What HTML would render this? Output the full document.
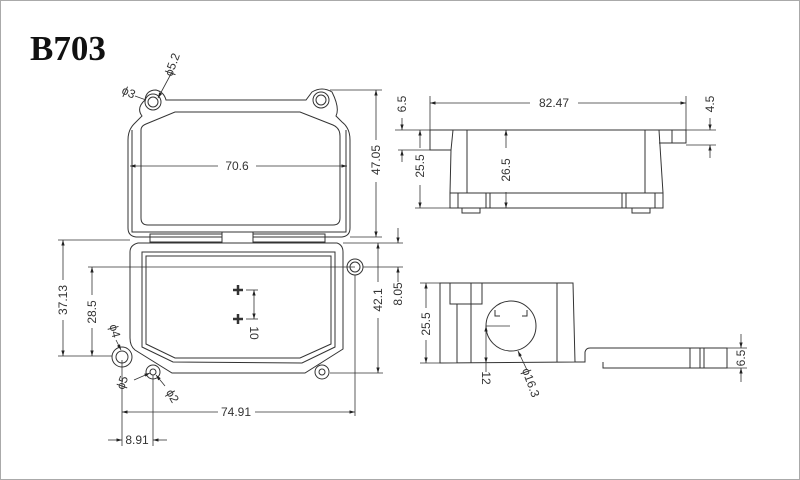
<!DOCTYPE html>
<html><head><meta charset="utf-8"><style>
html,body{margin:0;padding:0;background:#fff}
svg{display:block}
text{font-family:"Liberation Sans",sans-serif;font-size:12px;fill:#333}
</style></head><body>
<svg width="800" height="480" viewBox="0 0 800 480" xmlns="http://www.w3.org/2000/svg">
<defs>
<marker id="a" viewBox="0 0 10 10" refX="10" refY="5" markerWidth="7" markerHeight="7" orient="auto-start-reverse"><path d="M0,2 L10,5 L0,8z" fill="#222"/></marker>
</defs>
<rect x="0.5" y="0.5" width="799" height="479" fill="#fff" stroke="#aaa"/>
<text x="30" y="60" style="font-family:'Liberation Serif',serif;font-size:35px;font-weight:bold;fill:#111">B703</text>

<g fill="none" stroke="#333" stroke-width="1">
<!-- lid -->
<path d="M145,100 Q136,108 142,116 L134,124 Q128,130 128,140 L128,228 Q128,236 136,237 L342,237 Q350,236 350,228 L350,140 Q350,128 342,122 L336,116 Q340,108 332,92 Q322,86 312,92 L306,100 L166,100 Q164,92 156,90 Q146,90 145,100z"/>
<path d="M132,130 L132,232 L346,232 L346,130"/>
<path d="M175,112 L300,112 L333,125 Q340,128 340,136 L340,218 Q340,225 333,225 L148,225 Q141,225 141,218 L141,130 Q141,126 146,124 z"/>
<circle cx="153" cy="102" r="8"/><circle cx="153" cy="102" r="5"/>
<circle cx="321" cy="100" r="8"/><circle cx="321" cy="100" r="5"/>
<rect x="150" y="234" width="175" height="8"/>
<rect x="222" y="232" width="31" height="11" fill="#fff"/>
<!-- base -->
<path d="M138,243 L337,243 Q343,245 343,252 L343,349 L305,373 L172,373 L135,350 Q130,346 130,338 L130,252 Q130,245 138,243z"/>
<path d="M142,252 L335,252 L335,347 L302,363 L173,362 L142,347z"/>
<path d="M146,256 L331,256 L331,344 L300,358 L175,358 L146,344z"/>
<circle cx="355" cy="267" r="8"/><circle cx="355" cy="267" r="5"/>
<circle cx="122" cy="357" r="10"/><circle cx="122" cy="357" r="6"/>
<circle cx="153" cy="372" r="7"/><circle cx="153" cy="372" r="3"/>
<circle cx="322" cy="372" r="7"/><circle cx="322" cy="372" r="3"/>
<path d="M233,290 h10 M238,285 v10 M233,319 h10 M238,314 v10" stroke-width="2.5"/>
<!-- side view top -->
<path d="M430,130 L686,130 M430,130 L430,150 L451,150 L453,130 M451,150 L450,193 M467,130 L467,193 M645,130 L645,193 M659,130 L663,193 M659,143 L686,143 L686,130 M672,130 L672,143 M450,193 L663,193 L663,208 L450,208z M462,208 L462,213 L480,213 L480,208 M632,208 L632,213 L650,213 L650,208 M458,193 v15 M486,193 v15 M490,193 v15 M622,193 v15 M626,193 v15 M655,193 v15"/>
<!-- side view bottom -->
<path d="M440,283 L573,283 L575,362 L440,363z M450,283 L450,304 L482,304 L482,283 M457,304 V363 M471,283 V363 M557,283 V362 M575,362 L585,362 L585,352 Q586,348 590,348 L727,348 L727,368 L603,368 L603,362"/>
<circle cx="511" cy="326" r="25"/>
<path d="M495,310 v6 h5 M527,310 v6 h-5 M690,348 v20 M700,348 v20 M704,348 v20"/>
</g>

<g fill="none" stroke="#333" stroke-width="0.8">
<line x1="130" y1="166" x2="218" y2="166" marker-start="url(#a)"/><line x1="256" y1="166" x2="347" y2="166" marker-end="url(#a)"/>
<line x1="330" y1="90" x2="382" y2="90"/><line x1="350" y1="237" x2="382" y2="237"/>
<line x1="376" y1="90" x2="376" y2="140" marker-start="url(#a)"/><line x1="376" y1="182" x2="376" y2="237" marker-end="url(#a)"/>
<line x1="135" y1="96" x2="146" y2="100"/><line x1="172" y1="72" x2="158" y2="98" marker-end="url(#a)"/>
<line x1="58" y1="240" x2="130" y2="240"/><line x1="58" y1="356" x2="112" y2="356"/>
<line x1="63" y1="240" x2="63" y2="280" marker-start="url(#a)"/><line x1="63" y1="320" x2="63" y2="356" marker-end="url(#a)"/>
<line x1="88" y1="267" x2="355" y2="267"/>
<line x1="92" y1="267" x2="92" y2="295" marker-start="url(#a)"/><line x1="92" y1="328" x2="92" y2="356" marker-end="url(#a)"/>
<line x1="343" y1="243" x2="403" y2="243"/><line x1="330" y1="373" x2="383" y2="373"/>
<line x1="378" y1="243" x2="378" y2="282" marker-start="url(#a)"/><line x1="378" y1="318" x2="378" y2="373" marker-end="url(#a)"/>
<line x1="363" y1="267" x2="403" y2="267"/>
<line x1="398" y1="228" x2="398" y2="243" marker-end="url(#a)"/><line x1="398" y1="282" x2="398" y2="267" marker-end="url(#a)"/>
<line x1="246" y1="290" x2="258" y2="290"/><line x1="246" y1="319" x2="258" y2="319"/>
<line x1="254" y1="290" x2="254" y2="319" marker-start="url(#a)" marker-end="url(#a)"/>
<line x1="122" y1="360" x2="122" y2="446"/><line x1="153" y1="375" x2="153" y2="446"/><line x1="355" y1="275" x2="355" y2="416"/>
<line x1="122" y1="412" x2="218" y2="412" marker-start="url(#a)"/><line x1="255" y1="412" x2="355" y2="412" marker-end="url(#a)"/>
<line x1="108" y1="440" x2="122" y2="440" marker-end="url(#a)"/><line x1="167" y1="440" x2="153" y2="440" marker-end="url(#a)"/>
<line x1="116" y1="340" x2="121" y2="350" marker-end="url(#a)"/>
<line x1="134" y1="380" x2="150" y2="373" marker-end="url(#a)"/><line x1="165" y1="386" x2="156" y2="375" marker-end="url(#a)"/>
<line x1="430" y1="96" x2="430" y2="130"/><line x1="686" y1="96" x2="686" y2="130"/>
<line x1="430" y1="103" x2="530" y2="103" marker-start="url(#a)"/><line x1="578" y1="103" x2="686" y2="103" marker-end="url(#a)"/>
<line x1="395" y1="130" x2="430" y2="130"/><line x1="686" y1="130" x2="716" y2="130"/><line x1="686" y1="145" x2="716" y2="145"/>
<line x1="398" y1="150" x2="430" y2="150"/><line x1="415" y1="208" x2="450" y2="208"/>
<line x1="402" y1="118" x2="402" y2="130" marker-end="url(#a)"/><line x1="402" y1="162" x2="402" y2="150" marker-end="url(#a)"/>
<line x1="420" y1="130" x2="420" y2="148" marker-start="url(#a)"/><line x1="420" y1="185" x2="420" y2="208" marker-end="url(#a)"/>
<line x1="506" y1="130" x2="506" y2="148" marker-start="url(#a)"/><line x1="506" y1="192" x2="506" y2="208" marker-end="url(#a)"/>
<line x1="710" y1="118" x2="710" y2="130" marker-end="url(#a)"/><line x1="710" y1="158" x2="710" y2="145" marker-end="url(#a)"/>
<line x1="420" y1="283" x2="440" y2="283"/><line x1="420" y1="363" x2="440" y2="363"/>
<line x1="426" y1="283" x2="426" y2="308" marker-start="url(#a)"/><line x1="426" y1="340" x2="426" y2="363" marker-end="url(#a)"/>
<line x1="486" y1="326" x2="510" y2="326"/>
<line x1="486" y1="326" x2="486" y2="363" marker-start="url(#a)" marker-end="url(#a)"/>
<line x1="486" y1="363" x2="486" y2="372"/>
<line x1="527" y1="370" x2="518" y2="351" marker-end="url(#a)"/>
<line x1="727" y1="348" x2="747" y2="348"/><line x1="727" y1="368" x2="747" y2="368"/>
<line x1="741" y1="334" x2="741" y2="348" marker-end="url(#a)"/><line x1="741" y1="382" x2="741" y2="368" marker-end="url(#a)"/>
</g>

<g>
<text x="237" y="170" text-anchor="middle">70.6</text>
<text transform="translate(380,160) rotate(-90)" text-anchor="middle">47.05</text>
<text transform="translate(127,96) rotate(25)" text-anchor="middle">ϕ3</text>
<text transform="translate(176,66) rotate(-70)" text-anchor="middle">ϕ5.2</text>
<text transform="translate(67,300) rotate(-90)" text-anchor="middle">37.13</text>
<text transform="translate(96,312) rotate(-90)" text-anchor="middle">28.5</text>
<text transform="translate(382,300) rotate(-90)" text-anchor="middle">42.1</text>
<text transform="translate(402,294) rotate(-90)" text-anchor="middle">8.05</text>
<text transform="translate(250,333) rotate(90)" text-anchor="middle">10</text>
<text transform="translate(111,332) rotate(75)" text-anchor="middle">ϕ4</text>
<text transform="translate(126,384) rotate(-70)" text-anchor="middle">ϕ5</text>
<text transform="translate(169,398) rotate(60)" text-anchor="middle">ϕ2</text>
<text x="236" y="416" text-anchor="middle">74.91</text>
<text x="137" y="444" text-anchor="middle">8.91</text>
<text x="554" y="107" text-anchor="middle">82.47</text>
<text transform="translate(406,104) rotate(-90)" text-anchor="middle">6.5</text>
<text transform="translate(424,166) rotate(-90)" text-anchor="middle">25.5</text>
<text transform="translate(510,170) rotate(-90)" text-anchor="middle">26.5</text>
<text transform="translate(714,104) rotate(-90)" text-anchor="middle">4.5</text>
<text transform="translate(430,324) rotate(-90)" text-anchor="middle">25.5</text>
<text transform="translate(482,378) rotate(90)" text-anchor="middle">12</text>
<text transform="translate(527,384) rotate(70)" text-anchor="middle">ϕ16.3</text>
<text transform="translate(745,358) rotate(-90)" text-anchor="middle">6.5</text>
</g>
</svg>
</body></html>
